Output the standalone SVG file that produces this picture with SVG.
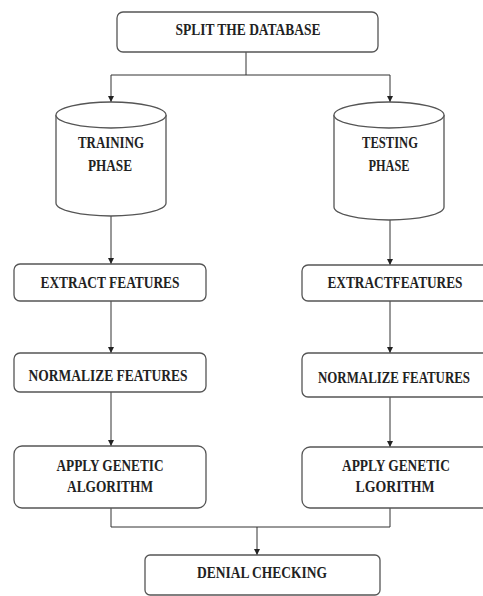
<svg xmlns="http://www.w3.org/2000/svg" width="483" height="596" viewBox="0 0 483 596">
<style>
.box{fill:#fff;stroke:#555;stroke-width:1.3}
.t{font-family:"Liberation Serif","Times New Roman",serif;font-weight:bold;font-size:16px;fill:#222;text-anchor:middle}
.c{fill:none;stroke:#333;stroke-width:1}
</style>
<defs>
<marker id="ar" viewBox="0 0 6 6" refX="6" refY="3" markerWidth="6" markerHeight="6" orient="auto" markerUnits="userSpaceOnUse">
<path d="M0,0 L6,3 L0,6 Z" fill="#222"/>
</marker>
</defs>
<rect width="483" height="596" fill="#fff"/>
<g id="connectors">
<path class="c" d="M246,52 V75 M111,75 H390"/>
<path class="c" d="M111,75 V102" marker-end="url(#ar)"/>
<path class="c" d="M390,75 V102" marker-end="url(#ar)"/>
<path class="c" d="M111,216 V264" marker-end="url(#ar)"/>
<path class="c" d="M390,220 V265" marker-end="url(#ar)"/>
<path class="c" d="M111,301 V353" marker-end="url(#ar)"/>
<path class="c" d="M390,301 V353" marker-end="url(#ar)"/>
<path class="c" d="M111,392 V446" marker-end="url(#ar)"/>
<path class="c" d="M390,397 V447" marker-end="url(#ar)"/>
<path class="c" d="M111,508 V527 H390 V508"/>
<path class="c" d="M257,527 V555" marker-end="url(#ar)"/>
</g>
<g id="split">
<rect class="box" x="117" y="12" width="261" height="40" rx="6"/>
<text class="t" x="248" y="35" textLength="145" lengthAdjust="spacingAndGlyphs">SPLIT THE DATABASE</text>
</g>
<g id="training">
<path class="box" d="M56,115 V203 A55,13 0 0 0 166,203 V115"/>
<ellipse class="box" cx="111" cy="115" rx="55" ry="13"/>
<text class="t" x="111" y="148" textLength="66" lengthAdjust="spacingAndGlyphs">TRAINING</text>
<text class="t" x="110" y="171" textLength="44" lengthAdjust="spacingAndGlyphs">PHASE</text>
</g>
<g id="testing">
<path class="box" d="M334,115 V207 A55,13 0 0 0 444,207 V115"/>
<ellipse class="box" cx="389" cy="115" rx="55" ry="13"/>
<text class="t" x="390" y="148" textLength="56" lengthAdjust="spacingAndGlyphs">TESTING</text>
<text class="t" x="389" y="171" textLength="41" lengthAdjust="spacingAndGlyphs">PHASE</text>
</g>
<g id="extract1">
<rect class="box" x="14" y="264" width="192" height="37" rx="6"/>
<text class="t" x="110" y="288" textLength="139" lengthAdjust="spacingAndGlyphs">EXTRACT FEATURES</text>
</g>
<g id="extract2">
<rect class="box" x="302" y="265" width="190" height="36" rx="6"/>
<text class="t" x="395" y="288" textLength="135" lengthAdjust="spacingAndGlyphs">EXTRACTFEATURES</text>
</g>
<g id="normalize1">
<rect class="box" x="14" y="353" width="192" height="39" rx="6"/>
<text class="t" x="108" y="381" textLength="159" lengthAdjust="spacingAndGlyphs">NORMALIZE FEATURES</text>
</g>
<g id="normalize2">
<rect class="box" x="302" y="353" width="190" height="44" rx="6"/>
<text class="t" x="394" y="383" textLength="152" lengthAdjust="spacingAndGlyphs">NORMALIZE FEATURES</text>
</g>
<g id="apply1">
<rect class="box" x="14" y="446" width="192" height="62" rx="8"/>
<text class="t" x="110" y="471" textLength="107" lengthAdjust="spacingAndGlyphs">APPLY GENETIC</text>
<text class="t" x="110" y="492" textLength="86" lengthAdjust="spacingAndGlyphs">ALGORITHM</text>
</g>
<g id="apply2">
<rect class="box" x="302" y="447" width="190" height="61" rx="8"/>
<text class="t" x="396" y="471" textLength="108" lengthAdjust="spacingAndGlyphs">APPLY GENETIC</text>
<text class="t" x="395" y="492" textLength="79" lengthAdjust="spacingAndGlyphs">LGORITHM</text>
</g>
<g id="denial">
<rect class="box" x="145" y="555" width="235" height="40" rx="5"/>
<text class="t" x="262" y="578" textLength="130" lengthAdjust="spacingAndGlyphs">DENIAL CHECKING</text>
</g>
</svg>
